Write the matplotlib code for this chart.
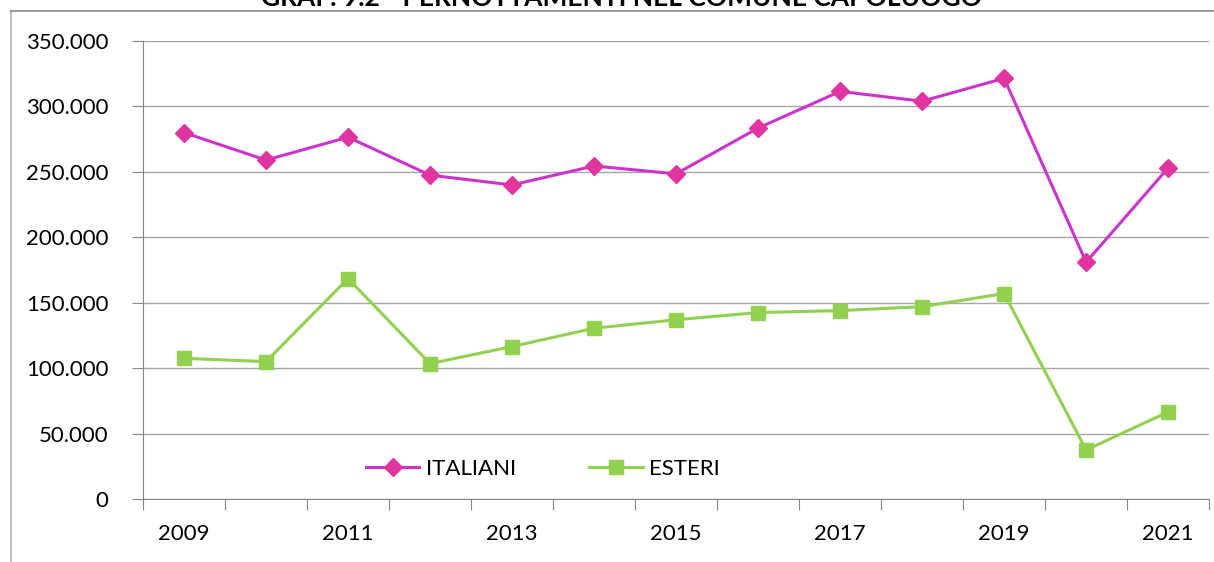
import matplotlib
matplotlib.use("Agg")
import matplotlib.pyplot as plt
from matplotlib.lines import Line2D
from matplotlib.ticker import FuncFormatter, MultipleLocator, FixedLocator
import numpy as np

plt.rcParams['font.family'] = ['Lato', 'DejaVu Sans']

years = [2009, 2010, 2011, 2012, 2013, 2014, 2015, 2016, 2017, 2018, 2019, 2020, 2021]
italiani = [280000, 259000, 276500, 247500, 240000, 254500, 248500, 283500, 311500, 304000, 321500, 181000, 253000]
esteri = [107500, 105000, 168500, 103500, 116500, 130500, 137000, 142500, 144000, 147000, 157000, 37500, 66500]
title = "GRAF. 9.2 - PERNOTTAMENTI NEL COMUNE CAPOLUOGO"

fig = plt.figure(figsize=(12.14, 5.62), dpi=100)
ax = fig.add_axes([0.1178, 0.1121, 0.8782, 0.8149])

x = np.arange(len(years))
ax.plot(x, italiani, color='#CC33CC', lw=2.2, marker='D', ms=9,
        markerfacecolor='#E0359E', markeredgecolor='#E0359E', label='ITALIANI', zorder=3)
ax.plot(x, esteri, color='#92D050', lw=2.2, marker='s', ms=10,
        markerfacecolor='#92D050', markeredgecolor='#92D050', label='ESTERI', zorder=3)

ax.set_xlim(-0.5, len(years) - 0.5)
ax.set_ylim(0, 350000)

# y axis: thousands with dot separator
ax.yaxis.set_major_locator(MultipleLocator(50000))
ax.yaxis.set_major_formatter(FuncFormatter(lambda v, p: f"{int(v):,}".replace(",", ".")))
ax.grid(axis='y', color='#A6A6A6', lw=1)
ax.set_axisbelow(True)

# x axis: tick marks between categories, labels every other year
ax.xaxis.set_major_locator(FixedLocator(np.arange(-0.5, len(years), 1.0)))
ax.xaxis.set_major_formatter(FuncFormatter(lambda v, p: ""))
ax.xaxis.set_minor_locator(FixedLocator(x[::2]))
ax.set_xticklabels([str(y) for y in years[::2]], minor=True)
ax.tick_params(axis='x', which='major', length=8, color='#868686', direction='out')
ax.tick_params(axis='x', which='minor', length=0, pad=18, labelsize=16)
ax.tick_params(axis='y', length=8, color='#868686', labelsize=16, pad=17)

for side in ('top', 'right'):
    ax.spines[side].set_visible(False)
for side in ('left', 'bottom'):
    ax.spines[side].set_color('#868686')

ax.legend(loc='center left', bbox_to_anchor=(366 / 1214, 1 - 469 / 562),
          bbox_transform=fig.transFigure, borderaxespad=0, borderpad=0,
          ncol=2, frameon=False, fontsize=16, handlelength=2.4,
          columnspacing=3.3, handletextpad=0.3)

# chart border and clipped heading
fig.add_artist(Line2D([11 / 1214, 11 / 1214], [0, 1 - 11 / 562], color='#BFBFBF', lw=1.5))
fig.add_artist(Line2D([11 / 1214, 1], [1 - 11 / 562, 1 - 11 / 562], color='#868686', lw=1.2))
fig.text(0.512, 1 - 6 / 562, title, ha='center', va='baseline', fontsize=19, fontweight='bold')

fig.savefig("out.png", dpi=100)
